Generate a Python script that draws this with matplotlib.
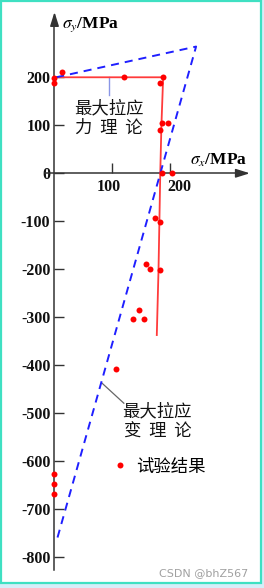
import matplotlib
matplotlib.use("Agg")
import matplotlib.pyplot as plt
import matplotlib.transforms as mtransforms
from matplotlib.patches import Rectangle

plt.rcParams['axes.unicode_minus'] = False
plt.rcParams['lines.scale_dashes'] = False
plt.rcParams['mathtext.fontset'] = 'stix'

# test results (sigma_x, sigma_y), MPa
test_x = [13, 0, 0, 120, 188, 183, 186, 197, 183, 186, 203, 174, 183,
          158, 165, 183, 146, 135, 155, 106, 0, 0, 0]
test_y = [211, 198, 189, 201, 201, 188, 105, 105, 90, 0, 0, -94, -102,
          -188, -199, -201, -285, -303, -303, -408, -626, -647, -668]

# max tensile stress theory
stress_x = [0, 188, 185, 183, 180, 177]
stress_y = [200, 200, 100, 0, -200, -337]

# max tensile strain theory
strain_x = [3, 245, 4]
strain_y = [200, 264, -764]

xticks = [100, 200]
yticks = [200, 100, 0, -100, -200, -300, -400, -500, -600, -700, -800]

cjk = ['Noto Sans CJK SC', 'DejaVu Sans']
axis_color = '#333333'

fig = plt.figure(figsize=(2.64, 5.88), dpi=100, facecolor='#d6eef9')
fig.add_artist(Rectangle((1 / 264, 1 - 583 / 588), 260 / 264, 582 / 588,
                         transform=fig.transFigure, facecolor='white',
                         edgecolor='#3fe0c2', lw=1.6, zorder=-10))

ax = fig.add_axes([0, 0, 1, 1])
ax.set_facecolor('none')
ax.set_xlim(-94.3, 362.5)
ax.set_ylim(-864, 361)

for s in ['top', 'right']:
    ax.spines[s].set_visible(False)
ax.spines['left'].set_position(('data', 0))
ax.spines['bottom'].set_position(('data', 0))
ax.spines['left'].set_bounds(-826, 325)
ax.spines['bottom'].set_bounds(-16, 330)
for s in ['left', 'bottom']:
    ax.spines[s].set_color(axis_color)
    ax.spines[s].set_linewidth(1.1)

arrow = dict(arrowstyle='-|>,head_length=0.7,head_width=0.22', color=axis_color,
             lw=1.1, mutation_scale=12, shrinkA=0, shrinkB=0)
ax.annotate('', xy=(338, 0), xytext=(320, 0), arrowprops=arrow)
ax.annotate('', xy=(0, 336), xytext=(0, 310), arrowprops=arrow)

ax.set_xticks(xticks)
ax.set_yticks(yticks)
ax.set_yticklabels([str(v) for v in yticks])
ax.tick_params(direction='in', length=7, width=1, color=axis_color,
               labelsize=11.5, labelcolor='#111111')
ax.tick_params(axis='x', pad=4)
ax.tick_params(axis='y', pad=3)
for lab in ax.get_xticklabels() + ax.get_yticklabels():
    lab.set_fontfamily('Liberation Serif')
    lab.set_fontweight('bold')

# the hand-drawn original has its x labels a little off the ticks
for lab, dx in zip(ax.get_xticklabels(), [-4, 9]):
    lab.set_transform(lab.get_transform() +
                      mtransforms.ScaledTranslation(dx / 100, 0, fig.dpi_scale_trans))

# theory boundaries
ax.plot(stress_x, stress_y, color='#ff3b3b', lw=1.3, zorder=3)
ax.plot(strain_x, strain_y, color='#1f1fff', lw=1.4, dashes=(5.8, 4.3), zorder=3)

# test points
ax.plot(test_x, test_y, 'o', color='#ff0000', ms=4.3, mec='none', zorder=4,
        label='试验结果', clip_on=False)

# axis titles
ax.text(13, 309, r'$\sigma_y$/MPa', fontsize=12.5, fontweight='bold',
        family='Liberation Serif', ha='left', va='center')
ax.text(234, 26, r'$\sigma_x$/MPa', fontsize=12.5, fontweight='bold',
        family='Liberation Serif', ha='left', va='center')

# annotations
ax.plot([95, 95], [201, 163], color='#8a96e6', lw=1)
ax.text(94, 115, '最大拉应\n力  理  论', family=cjk, fontsize=12.5,
        ha='center', va='center', linespacing=1.15, color='#111111')
ax.plot([82, 120], [-437, -479], color='#666666', lw=0.9)
ax.text(178, -517, '最大拉应\n变  理  论', family=cjk, fontsize=12.5,
        ha='center', va='center', linespacing=1.15, color='#111111')

leg = ax.legend(loc='center left', bbox_to_anchor=(100, -611),
                bbox_transform=ax.transData, frameon=False, handlelength=0.9,
                handletextpad=0.5, borderpad=0, borderaxespad=0,
                prop={'family': cjk, 'size': 12.5})

fig.text(0.94, 0.025, 'CSDN @bhZ567', color='#a0a0a0', fontsize=8,
         ha='right', va='center')

plt.savefig('out.png', dpi=100, facecolor=fig.get_facecolor())
